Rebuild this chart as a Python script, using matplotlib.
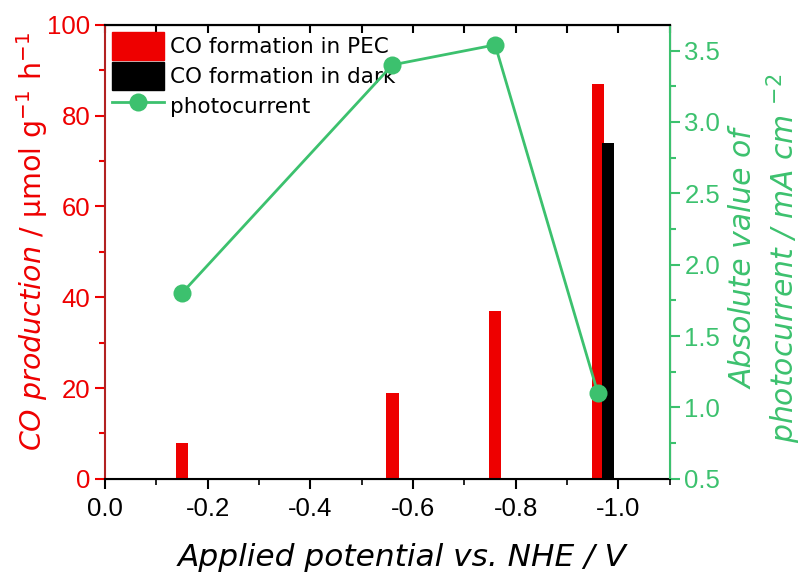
import numpy as np
import matplotlib.pyplot as plt
from matplotlib.ticker import MultipleLocator
from matplotlib.patches import Patch
from matplotlib.lines import Line2D

plt.rcParams['font.family'] = ['Liberation Sans', 'DejaVu Sans']
plt.rcParams['mathtext.fontset'] = 'dejavusans'

# data
pec_potential = [-0.15, -0.56, -0.76, -0.96]
pec_co = [8, 19, 37, 87]
dark_potential = [-0.98]
dark_co = [74]
pc_potential = [-0.15, -0.56, -0.76, -0.96]
photocurrent = [1.8, 3.4, 3.54, 1.1]

red = '#ee0000'
green = '#3cc16e'
lab_font = 'DejaVu Sans'

fig = plt.figure(figsize=(8.06, 5.79), dpi=100)
ax = fig.add_axes([0.130, 0.173, 0.701, 0.784])
ax2 = ax.twinx()

ax.bar(pec_potential, pec_co, width=0.024, color=red, zorder=2)
ax.bar(dark_potential, dark_co, width=0.024, color='black', zorder=2)
ax2.plot(pc_potential, photocurrent, color=green, lw=2, marker='o', ms=13,
         markeredgewidth=0)

ax.set_xlim(0, -1.1)
ax.set_ylim(0, 100)
ax2.set_ylim(0.5, 3.68)

ax.xaxis.set_major_locator(MultipleLocator(0.2))
ax.xaxis.set_minor_locator(MultipleLocator(0.1))
ax.yaxis.set_major_locator(MultipleLocator(20))
ax.yaxis.set_minor_locator(MultipleLocator(10))
ax2.yaxis.set_major_locator(MultipleLocator(0.5))
ax2.yaxis.set_minor_locator(MultipleLocator(0.25))

ax.tick_params(axis='x', which='both', direction='out', labelsize=18.5, pad=6)
ax.tick_params(axis='x', which='major', length=7, width=1.5)
ax.tick_params(axis='x', which='minor', length=4, width=1.2)

# top ticks pointing inward
top = ax.secondary_xaxis('top')
top.xaxis.set_major_locator(MultipleLocator(0.1))
top.tick_params(axis='x', which='major', direction='in', length=6, width=1.5, labeltop=False)
top.spines['top'].set_linewidth(1.5)

ax.tick_params(axis='y', which='both', colors=red, labelsize=18.5, width=1.5)
ax.tick_params(axis='y', which='major', length=7)
ax.tick_params(axis='y', which='minor', length=4)
ax2.tick_params(axis='y', which='both', colors=green, labelsize=18.5, width=1.5)
ax2.tick_params(axis='y', which='major', length=7)
ax2.tick_params(axis='y', which='minor', length=4)

ax.xaxis.set_major_formatter(plt.FuncFormatter(lambda v, p: f'{v:.1f}' if abs(v) > 1e-9 else '0.0'))

ax.spines['bottom'].set_linewidth(1.5)
ax.spines['left'].set_color('#b22222')
ax.spines['left'].set_linewidth(1.5)
ax2.spines['left'].set_visible(False)
ax2.spines['right'].set_color(green)
ax2.spines['right'].set_linewidth(1.5)
ax2.spines['top'].set_linewidth(1.5)

ax.set_xlabel('Applied potential vs. NHE / V', fontsize=22.5, style='italic',
              family=lab_font)
ax.xaxis.set_label_coords(0.527, -0.142)
ax.set_ylabel(r'$\it{CO\ production\ /}$ μmol g$^{-1}$ h$^{-1}$', fontsize=20.5,
              color=red, family=lab_font)
ax.yaxis.set_label_coords(-0.097, 0.523)
ax2.set_ylabel('Absolute value of\nphotocurrent / mA cm $^{-2}$', fontsize=21.5, color=green,
               style='italic', family=lab_font, linespacing=1.2)
ax2.yaxis.set_label_coords(1.105, 0.485)

handles = [Patch(facecolor=red, edgecolor=red),
           Patch(facecolor='black', edgecolor='black'),
           Line2D([], [], color=green, lw=2, marker='o', ms=13, markeredgewidth=0)]
labels = ['CO formation in PEC', 'CO formation in dark', 'photocurrent']
ax.legend(handles, labels, loc='upper left', frameon=False,
          prop={'family': lab_font, 'size': 15.5}, handlelength=2.4, handleheight=1.62,
          labelspacing=0.08, handletextpad=0.3, borderaxespad=0.0, borderpad=0.35)

fig.savefig('out.png', dpi=100)
